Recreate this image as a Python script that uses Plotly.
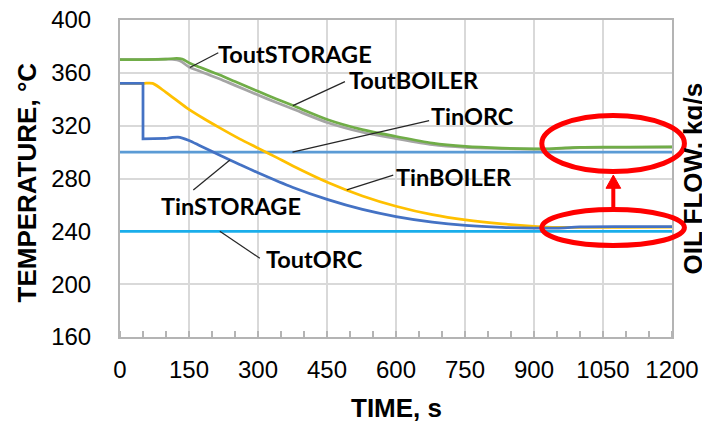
import numpy as np
import plotly.graph_objects as go

# ---- data: time (s) and temperature (°C) ----
t_tout_boiler = [0, 50, 100, 123, 135, 152, 174, 200, 217, 250, 300, 340, 376, 452, 527, 600, 679, 751, 831, 900, 930, 960, 1000, 1050, 1100, 1200]
tout_boiler   = [370, 370, 370.3, 371, 370.5, 367.3, 364.2, 360.6, 358.3, 353.4, 346, 340.2, 335.2, 324.5, 317, 311.8, 306.8, 304.3, 303, 302.5, 302.4, 303, 303.6, 303.8, 303.8, 304]

t_tout_storage = [0, 50, 100, 115, 130, 152, 174, 200, 217, 250, 300, 340, 376, 452, 527, 600, 679, 751, 831, 900, 930, 960, 1000, 1100, 1200]
tout_storage   = [370, 370, 370.3, 370.2, 369.2, 364, 361.2, 357.6, 355.4, 350.5, 343.2, 337.5, 332.6, 322.2, 315, 310.2, 305.6, 303.6, 302.7, 302.3, 302.3, 302.8, 303.4, 303.6, 303.8]

t_tin_boiler = [0, 50, 71, 100, 145, 180, 217, 260, 300, 340, 376, 452, 527, 600, 679, 751, 831, 900, 950, 1000, 1100, 1200]
tin_boiler   = [352, 352, 352, 345.2, 333.5, 325.8, 318.3, 310, 303, 296, 289.5, 277, 266.8, 259, 252.6, 248.6, 245.6, 243.8, 243, 243, 243, 243.2]

t_tin_storage = [0, 50, 50, 100, 126, 150, 175, 217, 239, 260, 300, 376, 452, 527, 600, 679, 751, 831, 900, 950, 1000, 1100, 1200]
tin_storage   = [352, 352, 310, 310.3, 311.3, 308.8, 304.6, 297.6, 294, 290.6, 284.3, 273.2, 264, 256.6, 251.2, 247, 244.5, 243, 242.4, 242.5, 243.3, 243.5, 243.6]

t_orc = [0, 1200]
tin_orc = [300, 300]
tout_orc = [240, 240]

x_ticks = [0, 150, 300, 450, 600, 750, 900, 1050, 1200]
y_ticks = [160, 200, 240, 280, 320, 360, 400]

# series: name, t, values, colour (drawing order)
series = [
    ("TinORC", t_orc, tin_orc, "#5B9BD5"),
    ("ToutORC", t_orc, tout_orc, "#1AAEEB"),
    ("ToutSTORAGE", t_tout_storage, tout_storage, "#A5A5A5"),
    ("ToutBOILER", t_tout_boiler, tout_boiler, "#70AD47"),
    ("TinBOILER", t_tin_boiler, tin_boiler, "#FFC000"),
    ("TinSTORAGE", t_tin_storage, tin_storage, "#4472C4"),
]

# callout labels: series, label centre (t, °C), leader start (t, °C), time where leader meets curve
callouts = [
    ("ToutSTORAGE", (380, 374.3), (213.7, 375.2), 152),
    ("ToutBOILER", (639, 354.6), (489, 353.3), 376),
    ("TinORC", (767, 327.3), (672, 323.8), 375),
    ("TinBOILER", (727, 280.8), (594, 282.6), 493),
    ("TinSTORAGE", (242, 259.2), (159.4, 271.3), 239),
    ("ToutORC", (422, 219.0), (304, 219.6), 217),
]


def add_line(t, v, col, shape):
    fig.add_trace(go.Scatter(x=t, y=v, mode="lines", showlegend=False, hoverinfo="x+y",
                             line=dict(color=col, width=2.75, shape=shape,
                                       smoothing=0.8 if shape == "spline" else None)))


fig = go.Figure()
lookup = {}
for name, t, v, col in series:
    lookup[name] = (t, v)
    if name in ("TinORC", "ToutORC"):
        add_line(t, v, col, "linear")
    elif name == "TinSTORAGE":
        # sharp step at 50 s drawn straight, the cooling curve afterwards smoothed
        k = 3
        add_line(t[:k + 1], v[:k + 1], col, "linear")
        add_line(t[k:], v[k:], col, "spline")
    else:
        add_line(t, v, col, "spline")

shapes = []
annotations = []
label_font = dict(family="Lato", size=23.5, color="#000000")
for name, (lx, ly), (sx, sy), t_hit in callouts:
    t, v = lookup[name]
    y_hit = float(np.interp(t_hit, t, v))
    shapes.append(dict(type="line", xref="x", yref="y", x0=sx, y0=sy, x1=t_hit, y1=y_hit,
                       line=dict(color="#262626", width=1.25)))
    annotations.append(dict(x=lx, y=ly, xref="x", yref="y", text=f"<b>{name}</b>",
                            showarrow=False, xanchor="center", yanchor="middle", font=label_font))

# red highlight ellipses (in axis units, mapped to paper so they may extend past the frame)
def px_(t):
    return t / 1200.0

def py_(v):
    return (v - 160.0) / 240.0

for (t0, t1, v0, v1) in [(917, 1227, 285.3, 327.7), (917, 1227, 229.3, 256.5)]:
    shapes.append(dict(type="circle", xref="paper", yref="paper",
                       x0=px_(t0), x1=px_(t1), y0=py_(v0), y1=py_(v1),
                       line=dict(color="#FF0000", width=5), layer="above"))

# red arrow between them
shapes.append(dict(type="line", xref="x", yref="y", x0=1072.4, x1=1072.4, y0=256.5, y1=273.5,
                   line=dict(color="#FF0000", width=4)))
shapes.append(dict(type="path", xref="x", yref="y",
                   path="M 1056.5 272.6 L 1088.5 272.6 L 1072.4 282.6 Z",
                   fillcolor="#FF0000", line=dict(color="#FF0000", width=1)))

# axis titles (the secondary flow title runs off the right edge)
title_font = dict(family="Liberation Sans", size=26, color="#000000")
annotations.append(dict(x=0.5, y=(408 - 337) / -317.0, xref="paper", yref="paper",
                        text="<b>TIME, s</b>", showarrow=False,
                        xanchor="center", yanchor="middle", font=title_font))
annotations.append(dict(x=(27 - 120) / 552.0, y=0.5 - 4 / 317.0, xref="paper", yref="paper",
                        text="<b>TEMPERATURE, °C</b>", textangle=-90, showarrow=False,
                        xanchor="center", yanchor="middle", font=title_font))
annotations.append(dict(x=(692 - 120) / 552.0, y=0.5, xref="paper", yref="paper",
                        text="<b>OIL FLOW, kg/s</b>", textangle=-90, showarrow=False,
                        xanchor="center", yanchor="middle", font=title_font))

axis_col = "#B4B4B4"
grid_col = "#D9D9D9"
tick_font = dict(family="Liberation Sans", size=24, color="#000000")

fig.update_layout(
    width=702, height=426,
    margin=dict(l=120, r=30, t=20, b=89, autoexpand=False),
    paper_bgcolor="white", plot_bgcolor="white",
    shapes=shapes, annotations=annotations,
    xaxis=dict(range=[0, 1200], tickvals=x_ticks, ticktext=[str(x) for x in x_ticks],
               showgrid=True, gridcolor=grid_col, gridwidth=2, automargin=False,
               showline=True, linecolor=axis_col, linewidth=2, mirror=True,
               ticks="", tickfont=tick_font, ticklabelstandoff=10, zeroline=False,
               minor=dict(dtick=50, tick0=0, ticks="inside", ticklen=6, tickcolor=axis_col,
                          tickwidth=1.5, showgrid=False)),
    yaxis=dict(range=[160, 400], tickvals=y_ticks, ticktext=[str(y) for y in y_ticks],
               showgrid=True, gridcolor=grid_col, gridwidth=2, automargin=False,
               showline=True, linecolor=axis_col, linewidth=2, mirror=True,
               ticks="", tickfont=tick_font, ticklabelstandoff=22, zeroline=False),
)

fig.write_html("out.html")
